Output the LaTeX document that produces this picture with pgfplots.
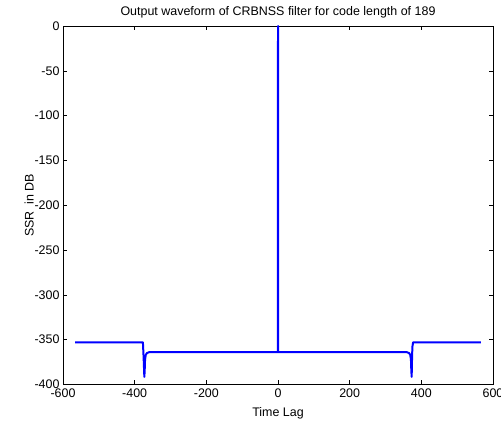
\documentclass[border=0pt]{standalone}
\usepackage{pgfplots}
\pgfplotsset{compat=1.18}
\usepackage{fontspec}
\setmainfont{Liberation Sans}
\begin{document}
\begin{tikzpicture}
\useasboundingbox (-63bp,-38.5bp) rectangle (438bp,384.5bp);
\begin{axis}[
  at={(0,0)}, anchor=south west,
  scale only axis, width=430bp, height=358.5bp,
  xmin=-600, xmax=600, ymin=-400, ymax=0,
  xtick={-600,-400,...,600}, ytick={-400,-350,...,0},
  tick align=inside, major tick length=4bp,
  axis line style={line width=0.8pt},
  every tick/.style={black, line width=0.6pt},
  font=\fontsize{12.5}{14}\selectfont,
  ticklabel style={font=\fontsize{12.5}{14}\selectfont},
  xticklabel style={yshift=-1bp},
  /pgf/number format/assume math mode=true,
  title={Output waveform of CRBNSS filter for code length of 189},
  title style={yshift=-2bp},
  xlabel={Time Lag}, ylabel={SSR\ \ in DB},
  xlabel style={yshift=-3bp}, ylabel style={yshift=-6bp},
  clip=false,
]
\addplot[blue, line width=2pt, line join=round] coordinates {
(-566,-353) (-377,-353) (-375,-370) (-373,-391.5) (-372,-384) (-371,-372) (-369,-367) (-366,-365) (-360,-364)
(-0.5,-364) (0,0) (0.5,-364)
(360,-364) (366,-365) (369,-367) (371,-372) (372,-384) (373,-391.5) (374,-372) (375,-358) (377,-353) (566,-353)
};
\end{axis}
\end{tikzpicture}
\end{document}
